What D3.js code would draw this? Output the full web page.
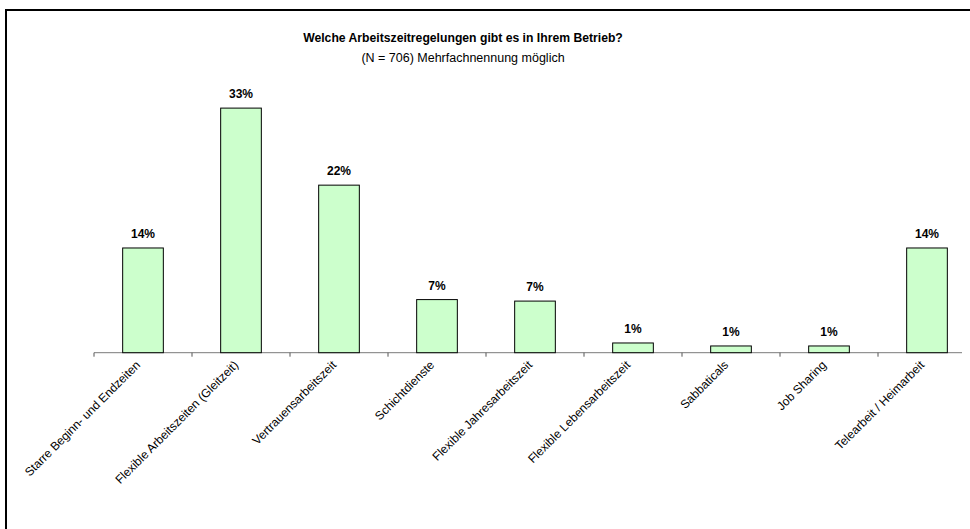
<!DOCTYPE html>
<html>
<head>
<meta charset="utf-8">
<script src="https://cdn.jsdelivr.net/npm/d3@7"></script>
<style>
  html, body { margin: 0; padding: 0; background: #fff; overflow: hidden; }
  svg { display: block; font-family: "Liberation Sans", Arial, sans-serif; }
</style>
</head>
<body>
<script>
var categories = [
  "Starre Beginn- und Endzeiten",
  "Flexible Arbeitszeiten (Gleitzeit)",
  "Vertrauensarbeitszeit",
  "Schichtdienste",
  "Flexible Jahresarbeitszeit",
  "Flexible Lebensarbeitszeit",
  "Sabbaticals",
  "Job Sharing",
  "Telearbeit / Heimarbeit"
];
var values = [14.0, 32.7, 22.4, 7.1, 6.9, 1.3, 0.9, 0.9, 14.0];
var labels = ["14%", "33%", "22%", "7%", "7%", "1%", "1%", "1%", "14%"];
var title = "Welche Arbeitszeitregelungen gibt es in Ihrem Betrieb?";
var subtitle = "(N = 706) Mehrfachnennung möglich";

var width = 970,
    height = 529;

var svg = d3.select("body").append("svg")
    .attr("width", width)
    .attr("height", height);

// outer frame, only its top and left edges fall inside the picture
svg.append("path")
    .attr("d", "M6," + height + "V10H" + width)
    .attr("fill", "none")
    .attr("stroke", "#000")
    .attr("stroke-width", 2);

svg.append("text")
    .attr("x", 463).attr("y", 42)
    .attr("text-anchor", "middle")
    .attr("font-size", 12.2)
    .attr("font-weight", "bold")
    .text(title);

svg.append("text")
    .attr("x", 463).attr("y", 62)
    .attr("text-anchor", "middle")
    .attr("font-size", 12.5)
    .text(subtitle);

var baseY = 352.7;

var x = d3.scaleBand()
    .domain(categories)
    .range([94, 976])
    .paddingInner(0.585)
    .paddingOuter(0.2925);

var y = d3.scaleLinear()
    .domain([0, 35])
    .range([baseY, baseY - 35 * 7.48]);

var g = svg.append("g");

// the axis stops where the plot area ends
svg.append("clipPath").attr("id", "plotclip")
  .append("rect").attr("x", 0).attr("y", 0).attr("width", 962).attr("height", height);

var axis = g.append("g")
    .attr("clip-path", "url(#plotclip)");

axis.append("line")
    .attr("x1", 94).attr("x2", 976)
    .attr("y1", baseY).attr("y2", baseY)
    .attr("stroke", "#7a7a7a")
    .attr("stroke-width", 1);

var step = x.step();
axis.selectAll("line.tick")
    .data(d3.range(categories.length))
  .enter().append("line")
    .attr("class", "tick")
    .attr("x1", function(i) { return 94 + i * step; })
    .attr("x2", function(i) { return 94 + i * step; })
    .attr("y1", baseY)
    .attr("y2", baseY + 4)
    .attr("stroke", "#555");

g.selectAll("rect.bar")
    .data(values)
  .enter().append("rect")
    .attr("class", "bar")
    .attr("x", function(d, i) { return x(categories[i]); })
    .attr("y", function(d) { return y(d); })
    .attr("width", x.bandwidth())
    .attr("height", function(d) { return baseY - y(d); })
    .attr("fill", "#ccffcc")
    .attr("stroke", "#000")
    .attr("stroke-width", 1);

g.selectAll("text.val")
    .data(values)
  .enter().append("text")
    .attr("class", "val")
    .attr("x", function(d, i) { return x(categories[i]) + x.bandwidth() / 2; })
    .attr("y", function(d) { return y(d) - 10; })
    .attr("text-anchor", "middle")
    .attr("font-size", 12)
    .attr("font-weight", "bold")
    .text(function(d, i) { return labels[i]; });

g.selectAll("text.cat")
    .data(categories)
  .enter().append("text")
    .attr("class", "cat")
    .attr("text-anchor", "end")
    .attr("font-size", 12)
    .attr("transform", function(d) {
      var cx = x(d) + x.bandwidth() / 2;
      return "translate(" + (cx - 2) + "," + (baseY + 13) + ") rotate(-45)";
    })
    .text(function(d) { return d; });
</script>
</body>
</html>
